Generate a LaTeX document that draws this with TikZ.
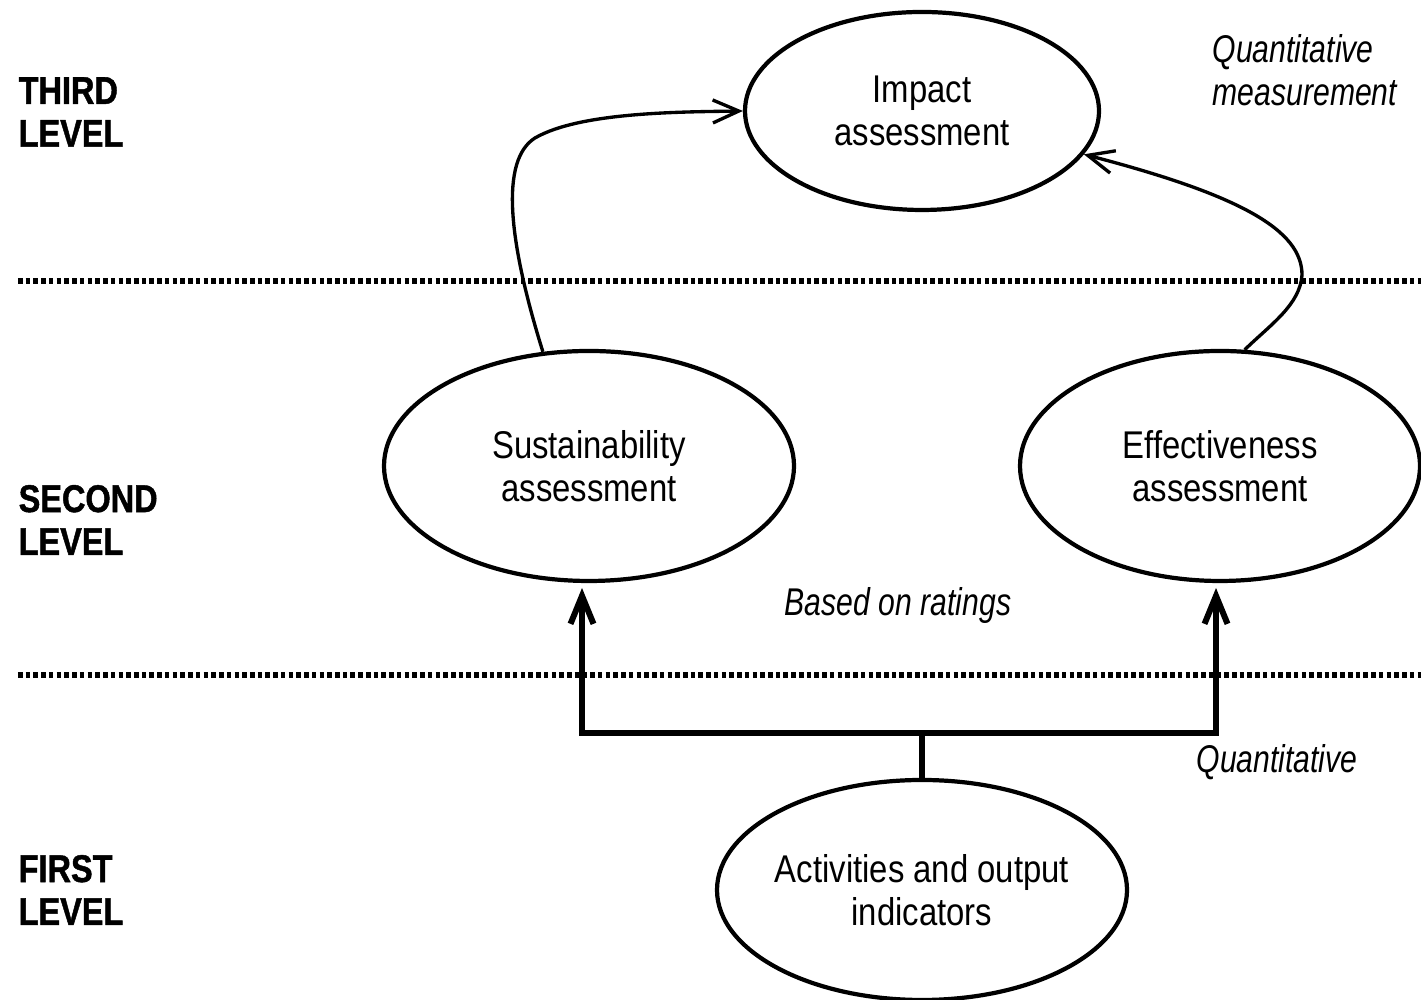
\documentclass[tikz,border=0pt]{standalone}
\usepackage{fontspec}
\setmainfont{Liberation Sans}
\newfontfamily\narrowfont[FakeStretch=0.85]{Liberation Sans}
\newfontfamily\levelfont[FakeStretch=0.84,FakeBold=1.2]{Liberation Sans}
\newfontfamily\notefont[FakeStretch=0.78]{Liberation Sans}
\usetikzlibrary{positioning, arrows.meta, shapes.geometric, calc}

\begin{document}
\begin{tikzpicture}[
    assess/.style={draw, ellipse, line width=1.2pt, inner sep=-4pt, align=center,
        font=\narrowfont\fontsize{11}{12.3}\selectfont},
    levellabel/.style={anchor=west, align=left, inner sep=0pt,
        font=\levelfont\bfseries\fontsize{11}{12.2}\selectfont},
    note/.style={inner sep=0pt, align=left, font=\notefont\itshape\fontsize{11}{12.2}\selectfont},
    divider/.style={line width=1.7pt, dash pattern=on 1.3pt off 0.9pt},
    link/.style={line width=0.95pt, -{Straight Barb[length=2.6mm, width=2.3mm]}},
    tree/.style={line width=1.7pt}]
    \useasboundingbox (0,0) rectangle (14.21,10);

    % levels
    \draw[divider] (0.18,7.19) -- (14.21,7.19);
    \draw[divider] (0.18,3.25) -- (14.21,3.25);
    \node[levellabel] (third) at (0.18,8.88) {THIRD\\LEVEL};
    \node[levellabel] (second) at (0.18,4.80) {SECOND\\LEVEL};
    \node[levellabel] (first) at (0.18,1.10) {FIRST\\LEVEL};

    % assessments
    \node[assess, minimum width=3.54cm, minimum height=1.98cm] (impact) at (9.22,8.89) {Impact\\assessment};
    \node[assess, minimum width=4.10cm, minimum height=2.30cm] (sust) at (5.89,5.34) {Sustainability\\assessment};
    \node[assess, minimum width=4.00cm, minimum height=2.30cm] (eff) at (12.20,5.34) {Effectiveness\\assessment};
    \node[assess, minimum width=4.10cm, minimum height=2.20cm] (act) at (9.22,1.10) {Activities and output\\indicators};

    % notes
    \node[note, anchor=west] (qm) at (12.12,9.30) {Quantitative\\measurement};
    \node[note] (ratings) at (8.98,3.94) {Based on ratings};
    \node[note] (quant) at (12.77,2.38) {Quantitative};

    % links to the third level
    \draw[link] (sust.112) .. controls (5.08,7.6) and (5.0,8.4) .. (5.35,8.62)
        .. controls (5.8,8.88) and (6.8,8.88) .. (impact.west);
    \draw[link] (eff.78) .. controls (12.7,6.75) and (13.0,6.95) .. (13.02,7.25)
        .. controls (13.02,7.7) and (12.4,8.05) .. (impact.-15);

    % first level fork
    \coordinate (fork) at (9.22,2.67);
    \coordinate (sustin) at (5.82,4.12);
    \coordinate (effin) at (12.16,4.12);
    \draw[tree] (act.north) -- (fork);
    \draw[tree, -{Straight Barb[length=2.8mm, width=2.3mm]}] (fork) -| (sustin);
    \draw[tree, -{Straight Barb[length=2.8mm, width=2.3mm]}] (fork) -| (effin);
\end{tikzpicture}
\end{document}
